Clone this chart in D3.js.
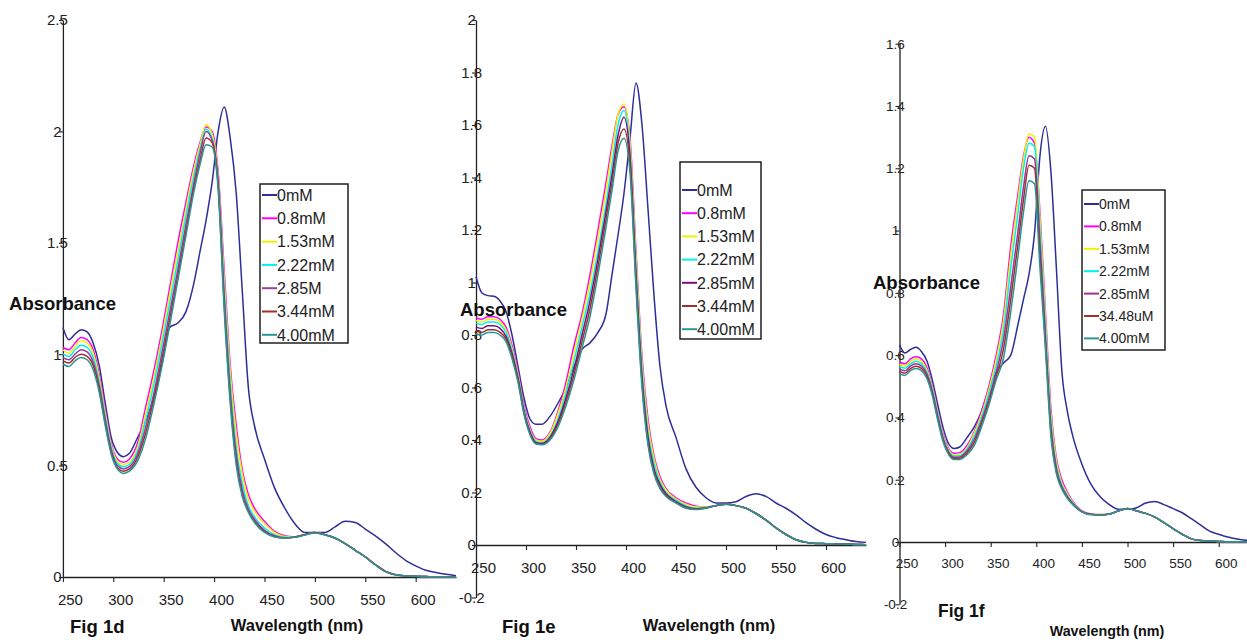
<!DOCTYPE html>
<html><head><meta charset="utf-8">
<script src="https://cdn.jsdelivr.net/npm/d3@7"></script>
<style>
html,body{margin:0;padding:0;background:#fff;}
svg{display:block;font-family:"Liberation Sans",Arial,sans-serif;}
</style></head>
<body>
<svg id="chart" width="1247" height="640"></svg>
<script>
// ---------- DATA ----------
const WL = [250,256,262,268,274,280,286,292,298,304,310,316,324,332,340,348,356,364,372,380,386,392,398,404,410,416,422,428,434,440,450,460,470,480,490,500,510,520,530,540,550,560,570,580,590,600,610,620,630,640];
const xTickValues = [250,300,350,400,450,500,550,600];

// Fig 1d
const fig1dLabels = ["0mM","0.8mM","1.53mM","2.22mM","2.85M","3.44mM","4.00mM"];
const fig1dYTicks = [0,0.5,1,1.5,2,2.5];
const fig1d_0mM  = [1.12,1.065,1.09,1.11,1.10,1.05,0.95,0.78,0.625,0.56,0.54,0.555,0.625,0.70,0.80,0.95,1.12,1.14,1.19,1.32,1.46,1.60,1.77,2.00,2.11,1.97,1.72,1.28,0.85,0.68,0.53,0.40,0.31,0.24,0.20,0.20,0.20,0.225,0.25,0.245,0.215,0.185,0.15,0.11,0.075,0.05,0.03,0.02,0.012,0.006];
const fig1d_08   = [1.03,1.02,1.05,1.075,1.065,1.02,0.91,0.75,0.60,0.53,0.515,0.53,0.60,0.76,0.92,1.10,1.30,1.50,1.68,1.85,1.95,2.02,2.00,1.82,1.38,0.95,0.68,0.48,0.37,0.31,0.25,0.205,0.185,0.18,0.19,0.20,0.19,0.175,0.15,0.12,0.09,0.055,0.025,0.01,0.005,0.003,0.002,0.001,0.001,0.0];
const fig1d_153  = [1.02,1.005,1.035,1.06,1.05,1.005,0.895,0.735,0.59,0.52,0.505,0.515,0.58,0.73,0.89,1.07,1.27,1.46,1.65,1.83,1.94,2.03,1.99,1.80,1.34,0.92,0.64,0.46,0.35,0.295,0.24,0.20,0.182,0.18,0.19,0.20,0.19,0.175,0.15,0.12,0.09,0.055,0.025,0.01,0.005,0.003,0.002,0.001,0.001,0.0];
const fig1d_222  = [1.00,0.99,1.02,1.04,1.03,0.985,0.875,0.72,0.58,0.51,0.495,0.505,0.565,0.70,0.86,1.04,1.23,1.42,1.62,1.80,1.92,2.01,1.97,1.78,1.30,0.87,0.58,0.42,0.32,0.27,0.22,0.19,0.178,0.18,0.19,0.20,0.19,0.175,0.15,0.12,0.09,0.055,0.025,0.01,0.005,0.003,0.002,0.001,0.001,0.0];
const fig1d_285  = [0.985,0.975,1.00,1.02,1.01,0.965,0.86,0.705,0.57,0.50,0.485,0.495,0.55,0.67,0.82,1.00,1.19,1.38,1.58,1.77,1.90,2.00,1.96,1.77,1.26,0.83,0.55,0.39,0.305,0.26,0.21,0.185,0.176,0.18,0.19,0.20,0.19,0.175,0.15,0.12,0.09,0.055,0.025,0.01,0.005,0.003,0.002,0.001,0.001,0.0];
const fig1d_344  = [0.97,0.96,0.985,1.00,0.99,0.95,0.845,0.69,0.56,0.49,0.475,0.485,0.535,0.645,0.795,0.97,1.16,1.35,1.55,1.75,1.87,1.97,1.95,1.76,1.23,0.80,0.52,0.37,0.295,0.25,0.205,0.182,0.175,0.18,0.19,0.20,0.19,0.175,0.15,0.12,0.09,0.055,0.025,0.01,0.005,0.003,0.002,0.001,0.001,0.0];
const fig1d_400  = [0.955,0.945,0.97,0.985,0.975,0.93,0.83,0.68,0.55,0.485,0.465,0.475,0.52,0.62,0.77,0.94,1.13,1.33,1.53,1.73,1.85,1.94,1.93,1.74,1.20,0.78,0.50,0.36,0.29,0.245,0.20,0.18,0.175,0.178,0.188,0.198,0.19,0.175,0.15,0.12,0.09,0.054,0.024,0.01,0.005,0.003,0.002,0.001,0.001,0.0];

// Fig 1e
const fig1eLabels = ["0mM","0.8mM","1.53mM","2.22mM","2.85mM","3.44mM","4.00mM"];
const fig1eYTicks = [-0.2,0,0.2,0.4,0.6,0.8,1,1.2,1.4,1.6,1.8,2];
const fig1e_0mM  = [1.022,0.96,0.95,0.948,0.93,0.89,0.80,0.68,0.56,0.48,0.46,0.46,0.49,0.54,0.60,0.68,0.745,0.77,0.81,0.88,1.03,1.18,1.34,1.55,1.76,1.60,1.28,0.95,0.68,0.53,0.41,0.29,0.22,0.18,0.16,0.16,0.165,0.185,0.195,0.185,0.16,0.14,0.115,0.085,0.06,0.04,0.028,0.02,0.013,0.01];
const fig1e_08   = [0.865,0.86,0.87,0.87,0.86,0.83,0.76,0.66,0.53,0.45,0.405,0.40,0.43,0.51,0.62,0.76,0.88,1.03,1.20,1.38,1.52,1.64,1.67,1.55,1.12,0.72,0.48,0.34,0.26,0.215,0.18,0.16,0.148,0.145,0.15,0.155,0.15,0.14,0.12,0.095,0.065,0.04,0.02,0.01,0.006,0.005,0.004,0.003,0.002,0.001];
const fig1e_153  = [0.855,0.85,0.86,0.86,0.85,0.82,0.75,0.65,0.52,0.44,0.40,0.395,0.425,0.50,0.60,0.73,0.86,1.00,1.17,1.35,1.50,1.64,1.68,1.53,1.10,0.70,0.46,0.33,0.25,0.21,0.175,0.155,0.145,0.145,0.15,0.155,0.15,0.14,0.12,0.095,0.065,0.04,0.02,0.01,0.006,0.005,0.004,0.003,0.002,0.001];
const fig1e_222  = [0.845,0.84,0.85,0.85,0.84,0.81,0.74,0.64,0.515,0.435,0.395,0.39,0.415,0.48,0.58,0.70,0.83,0.96,1.12,1.30,1.45,1.60,1.655,1.50,1.06,0.67,0.43,0.31,0.24,0.20,0.17,0.15,0.14,0.143,0.15,0.155,0.15,0.14,0.12,0.095,0.065,0.04,0.02,0.01,0.006,0.005,0.004,0.003,0.002,0.001];
const fig1e_285  = [0.83,0.825,0.835,0.835,0.825,0.795,0.73,0.635,0.51,0.43,0.39,0.387,0.41,0.47,0.56,0.67,0.80,0.93,1.09,1.27,1.41,1.56,1.63,1.48,1.03,0.64,0.41,0.29,0.23,0.195,0.165,0.145,0.138,0.142,0.15,0.155,0.15,0.14,0.12,0.095,0.065,0.04,0.02,0.01,0.006,0.005,0.004,0.003,0.002,0.001];
const fig1e_344  = [0.815,0.81,0.82,0.82,0.81,0.785,0.72,0.63,0.50,0.425,0.387,0.384,0.405,0.46,0.545,0.65,0.775,0.90,1.06,1.24,1.38,1.53,1.585,1.45,1.00,0.62,0.39,0.28,0.22,0.19,0.162,0.142,0.136,0.141,0.15,0.155,0.15,0.14,0.12,0.095,0.065,0.04,0.02,0.01,0.006,0.005,0.004,0.003,0.002,0.001];
const fig1e_400  = [0.805,0.80,0.81,0.81,0.80,0.775,0.71,0.62,0.50,0.42,0.385,0.382,0.40,0.45,0.53,0.63,0.75,0.87,1.03,1.21,1.35,1.50,1.55,1.42,0.98,0.60,0.38,0.27,0.215,0.185,0.16,0.14,0.135,0.14,0.15,0.155,0.15,0.14,0.12,0.095,0.065,0.04,0.02,0.01,0.006,0.005,0.004,0.003,0.002,0.001];

// Fig 1f
const fig1fLabels = ["0mM","0.8mM","1.53mM","2.22mM","2.85mM","34.48uM","4.00mM"];
const fig1fYTicks = [-0.2,0,0.2,0.4,0.6,0.8,1,1.2,1.4,1.6];
const fig1f_0mM  = [0.632,0.607,0.618,0.625,0.612,0.582,0.52,0.44,0.365,0.315,0.30,0.305,0.335,0.37,0.42,0.49,0.545,0.575,0.60,0.70,0.78,0.86,0.99,1.24,1.335,1.19,0.88,0.55,0.42,0.34,0.25,0.185,0.145,0.12,0.105,0.105,0.11,0.125,0.13,0.12,0.107,0.094,0.075,0.055,0.035,0.025,0.016,0.01,0.006,0.004];
const fig1f_08   = [0.578,0.572,0.588,0.595,0.588,0.56,0.50,0.42,0.345,0.30,0.285,0.287,0.31,0.355,0.42,0.50,0.60,0.73,0.95,1.12,1.24,1.30,1.28,1.06,0.74,0.43,0.27,0.20,0.16,0.13,0.10,0.09,0.088,0.09,0.10,0.108,0.10,0.092,0.08,0.062,0.043,0.025,0.01,0.005,0.003,0.002,0.001,0.001,0.0,0.0];
const fig1f_153  = [0.57,0.565,0.58,0.588,0.58,0.553,0.495,0.415,0.34,0.296,0.28,0.282,0.303,0.35,0.41,0.49,0.585,0.71,0.92,1.10,1.23,1.31,1.30,1.04,0.72,0.41,0.26,0.19,0.155,0.127,0.099,0.09,0.088,0.09,0.10,0.108,0.10,0.092,0.08,0.062,0.043,0.025,0.01,0.005,0.003,0.002,0.001,0.001,0.0,0.0];
const fig1f_222  = [0.563,0.558,0.572,0.58,0.572,0.546,0.49,0.41,0.335,0.292,0.276,0.277,0.298,0.34,0.40,0.475,0.565,0.68,0.88,1.06,1.20,1.28,1.27,1.00,0.69,0.39,0.245,0.183,0.15,0.125,0.098,0.089,0.087,0.09,0.10,0.108,0.10,0.092,0.08,0.062,0.043,0.025,0.01,0.005,0.003,0.002,0.001,0.001,0.0,0.0];
const fig1f_285  = [0.555,0.55,0.565,0.572,0.565,0.539,0.483,0.403,0.33,0.288,0.272,0.273,0.292,0.33,0.39,0.46,0.545,0.65,0.82,1.00,1.14,1.24,1.23,0.96,0.66,0.37,0.235,0.177,0.146,0.123,0.098,0.089,0.087,0.09,0.10,0.108,0.10,0.092,0.08,0.062,0.043,0.025,0.01,0.005,0.003,0.002,0.001,0.001,0.0,0.0];
const fig1f_3448 = [0.547,0.542,0.557,0.564,0.557,0.532,0.476,0.396,0.325,0.284,0.268,0.269,0.286,0.32,0.38,0.45,0.53,0.62,0.78,0.96,1.10,1.21,1.20,0.92,0.64,0.355,0.228,0.173,0.143,0.121,0.097,0.088,0.087,0.09,0.10,0.108,0.10,0.092,0.08,0.062,0.043,0.025,0.01,0.005,0.003,0.002,0.001,0.001,0.0,0.0];
const fig1f_400  = [0.54,0.535,0.55,0.557,0.55,0.525,0.47,0.39,0.32,0.28,0.265,0.265,0.28,0.31,0.37,0.44,0.52,0.59,0.74,0.92,1.06,1.16,1.15,0.88,0.62,0.34,0.22,0.17,0.14,0.12,0.097,0.088,0.087,0.09,0.10,0.108,0.10,0.092,0.08,0.062,0.043,0.025,0.01,0.005,0.003,0.002,0.001,0.001,0.0,0.0];

// ---------- STYLE / LAYOUT ----------
const svg = d3.select("#chart");
const FONT = "'Liberation Sans', Arial, sans-serif";

const panels = [
  { series:[fig1d_0mM,fig1d_08,fig1d_153,fig1d_222,fig1d_285,fig1d_344,fig1d_400], labels:fig1dLabels, yTicks:fig1dYTicks,
    colors:["#2e2e98","#ff00ff","#f2f200","#00f0f0","#9c3c9c","#a03030","#2a9595"],
    xr:[62.9,456], yd:[0,2.5], yr:[577,20], yLab:-5.5, tickFs:15, xLabY:28,
    legend:{x:260,y:184,w:88,h:159,row0:195,dy:23.3,fs:16},
    absorb:{x:116,y:310,anchor:"end",fs:18.5}, fig:{t:"Fig 1d",x:70,y:633,fs:18.5},
    wave:{x:297,y:631,fs:16.5} },
  { series:[fig1e_0mM,fig1e_08,fig1e_153,fig1e_222,fig1e_285,fig1e_344,fig1e_400], labels:fig1eLabels, yTicks:fig1eYTicks,
    colors:["#2e2e98","#ff00ff","#f2f200","#00f0f0","#7a107a","#a03030","#2a9595"],
    xr:[476,866], yd:[-0.2,2], yr:[597.5,20], yLab:-4.3, tickFs:15, xLabY:28,
    legend:{x:680,y:162,w:81,h:177,row0:190,dy:23.2,fs:16},
    absorb:{x:460,y:316,anchor:"start",fs:18.5}, fig:{t:"Fig 1e",x:502,y:633,fs:18.5},
    wave:{x:709,y:631,fs:16.5} },
  { series:[fig1f_0mM,fig1f_08,fig1f_153,fig1f_222,fig1f_285,fig1f_3448,fig1f_400], labels:fig1fLabels, yTicks:fig1fYTicks,
    colors:["#2e2e98","#ff00ff","#f2f200","#00f0f0","#993399","#a03030","#2a9595"],
    xr:[899.5,1255.2], yd:[-0.2,1.6], yr:[604.3,43.7], yLab:-4, tickFs:13.5, xLabY:26,
    legend:{x:1082,y:190,w:83,h:160,row0:204,dy:22.4,fs:14},
    absorb:{x:873,y:289,anchor:"start",fs:18.5}, fig:{t:"Fig 1f",x:938,y:617,fs:17.5},
    wave:{x:1107,y:636,fs:14.3} }
];

panels.forEach(p => {
  const x = d3.scaleLinear().domain([250,640]).range(p.xr);
  const y = d3.scaleLinear().domain(p.yd).range(p.yr);
  const g = svg.append("g");

  // y axis
  const ya = g.append("g").attr("transform", `translate(${x(250)},0)`)
    .call(d3.axisLeft(y).tickValues(p.yTicks).tickSize(4).tickSizeOuter(0).tickFormat(d => String(d)));
  ya.select(".domain").attr("stroke","#222").attr("stroke-width",1.3);
  ya.selectAll(".tick line").attr("stroke","#222").attr("stroke-width",1.1);
  ya.selectAll(".tick text").attr("x", p.yLab).attr("text-anchor","middle")
    .attr("font-family",FONT).attr("font-size",p.tickFs).attr("fill","#222");

  // x axis at y=0
  const xa = g.append("g").attr("transform", `translate(0,${y(0)})`)
    .call(d3.axisBottom(x).tickValues(xTickValues).tickSize(5).tickSizeOuter(0).tickFormat(d3.format("d")));
  xa.select(".domain").attr("stroke","#222").attr("stroke-width",1.3);
  xa.selectAll(".tick line").attr("stroke","#222").attr("stroke-width",1.1);
  xa.selectAll(".tick text").attr("x",7).attr("y",p.xLabY - 0).attr("dy",0)
    .attr("font-family",FONT).attr("font-size",p.tickFs).attr("fill","#222");

  // curves
  const line = d3.line().x((d,i) => x(WL[i])).y(d => y(d)).curve(d3.curveMonotoneX);
  p.series.forEach((s, k) => {
    g.append("path").datum(s).attr("d", line)
      .attr("fill","none").attr("stroke",p.colors[k]).attr("stroke-width",1.5)
      .attr("stroke-linejoin","round");
  });

  // legend
  const L = p.legend;
  const lg = g.append("g");
  lg.append("rect").attr("x",L.x).attr("y",L.y).attr("width",L.w).attr("height",L.h)
    .attr("fill","#fff").attr("stroke","#111").attr("stroke-width",1.4);
  p.labels.forEach((lab,k) => {
    const cy = L.row0 + k*L.dy;
    lg.append("line").attr("x1",L.x+2).attr("x2",L.x+17).attr("y1",cy).attr("y2",cy)
      .attr("stroke",p.colors[k]).attr("stroke-width",2);
    lg.append("text").attr("x",L.x+17).attr("y",cy).attr("dy","0.36em")
      .attr("font-family",FONT).attr("font-size",L.fs).attr("fill","#222").text(lab);
  });

  // titles
  g.append("text").attr("x",p.absorb.x).attr("y",p.absorb.y).attr("text-anchor",p.absorb.anchor)
    .attr("font-family",FONT).attr("font-weight","bold").attr("font-size",p.absorb.fs).attr("fill","#111").text("Absorbance");
  g.append("text").attr("x",p.fig.x).attr("y",p.fig.y)
    .attr("font-family",FONT).attr("font-weight","bold").attr("font-size",p.fig.fs).attr("fill","#111").text(p.fig.t);
  g.append("text").attr("x",p.wave.x).attr("y",p.wave.y).attr("text-anchor","middle")
    .attr("font-family",FONT).attr("font-weight","bold").attr("font-size",p.wave.fs).attr("fill","#111").text("Wavelength (nm)");
});
</script>
</body></html>
